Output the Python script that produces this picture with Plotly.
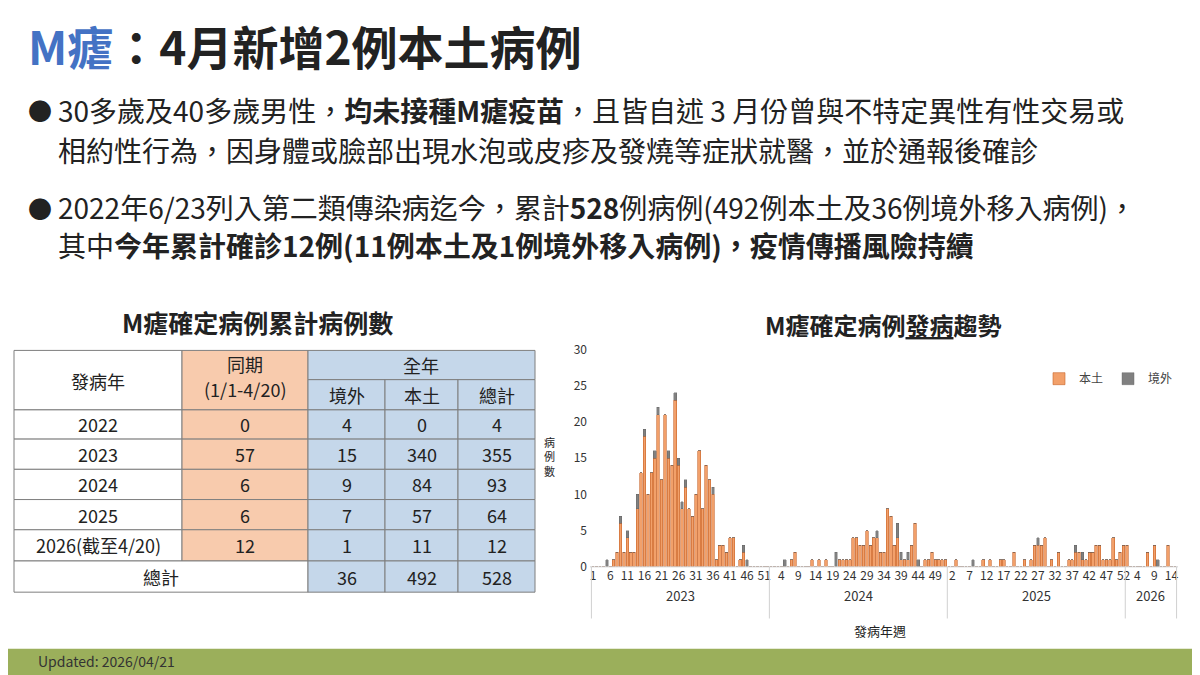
import plotly.graph_objects as go

FONT = "Noto Sans CJK TC"
years = ["2023", "2024", "2025", "2026"]
local = {
 "2023": [0,0,0,0,0,0,1,2,6,2, 4,2,2,8,13,18,10,13,15,21, 12,21,15,14,23,14,8,11,8,7, 10,16,8,14,12,10,1,3,3,2, 4,4,0,1,2,0,0,0,0,0, 0,0],
 "2024": [0,0,0,0,0,0,1,2,0,0, 0,0,1,0,1,0,1,0,0,0, 1,1,1,1,4,4,3,3,5,3, 4,4,2,2,8,7,3,4,1,1, 1,3,6,0,0,1,1,2,1,1, 1,1],
 "2025": [0,0,1,0,0,0,0,0,0,0, 1,0,1,0,0,1,1,0,0,2, 0,0,1,0,1,3,3,3,4,0, 1,0,2,0,0,1,1,2,2,1, 1,2,2,3,3,1,1,1,4,1, 2,3],
 "2026": [3,0,0,0,0,0,2,0,3,0,0,0,3,0,0],
}
imported = {
 "2023": [0,0,0,0,1,0,0,0,1,0, 1,0,0,2,0,1,0,0,1,1, 0,0,1,0,1,1,1,1,0,0, 0,0,0,0,0,1,0,0,0,0, 0,0,0,0,1,1,0,0,0,0, 0,0],
 "2024": [0,0,0,0,1,0,0,0,0,0, 0,0,0,0,0,0,0,0,0,2, 0,0,0,0,0,0,0,0,0,0, 0,1,0,0,0,0,0,2,1,0, 1,0,0,1,0,0,0,0,0,0, 0,0],
 "2025": [0,0,0,0,0,0,0,1,0,0, 0,0,0,0,0,0,0,0,0,0, 0,0,0,0,0,0,1,0,0,0, 0,0,0,0,0,0,0,1,0,1, 0,0,0,0,0,0,0,0,0,0, 0,0],
 "2026": [0,0,0,0,0,0,0,0,0,1,0,0,0,0,0],
}
tick_weeks = {
 "2023": [1,6,11,16,21,26,31,36,41,46,51],
 "2024": [4,9,14,19,24,29,34,39,44,49],
 "2025": [2,7,12,17,22,27,32,37,42,47,52],
 "2026": [4,9,14],
}
table_header = ["發病年", "同期", "(1/1-4/20)", "全年", "境外", "本土", "總計"]
table_years = ["2022", "2023", "2024", "2025", "2026(截至4/20)", "總計"]
table_same = ["0", "57", "6", "6", "12", ""]
table_imp = ["4", "15", "9", "7", "1", "36"]
table_loc = ["0", "340", "84", "57", "11", "492"]
table_tot = ["4", "355", "93", "64", "12", "528"]

xs, yl, yi, tv, tt, bounds, centers = [], [], [], [], [], [-0.5], []
i = 0
for yr in years:
    start = i
    for w, (a, b) in enumerate(zip(local[yr], imported[yr]), 1):
        xs.append(i); yl.append(a); yi.append(b)
        if w in tick_weeks[yr]:
            tv.append(i); tt.append(str(w))
        i += 1
    bounds.append(i - 0.5)
    centers.append((start + i - 1) / 2)

fig = go.Figure()
fig.add_bar(x=xs, y=yl, name="本土", marker=dict(color="#F2A06A", line=dict(color="#C8642A", width=0.6)))
fig.add_bar(x=xs, y=yi, name="境外", marker=dict(color="#808080", line=dict(color="#606060", width=0.4)))

W, H = 1200, 675
OFF = 8
def px(x): return (x - OFF) / W
def py(y): return 1 - (y - OFF) / H

shapes, ann = [], []
def text(x, y, s, size=18, color="#222", bold=False, xa="center", **kw):
    ann.append(dict(x=px(x), y=py(y), xref="paper", yref="paper", text=(f"<b>{s}</b>" if bold else s),
                    showarrow=False, xanchor=xa, yanchor="middle",
                    font=dict(family=FONT, size=size, color=color), **kw))
def rect(x0, y0, x1, y1, fill, lw=1):
    shapes.append(dict(type="rect", xref="paper", yref="paper", x0=px(x0), x1=px(x1), y0=py(y1), y1=py(y0),
                       fillcolor=fill, line=dict(color="#7F7F7F", width=lw), layer="below"))

text(26, 36, "<span style='color:#4472C4'>M瘧</span>：4月新增2例本土病例", size=46, bold=True, xa="left")
text(26, 102, "●", size=24, xa="left")
text(26, 202, "●", size=24, xa="left")
text(56, 102, "30多歲及40多歲男性，<b>均未接種M瘧疫苗</b>，且皆自述 3 月份曾與不特定異性有性交易或", size=28, xa="left")
text(56, 143, "相約性行為，因身體或臉部出現水泡或皮疹及發燒等症狀就醫，並於通報後確診", size=28, xa="left")
text(56, 202, "2022年6/23列入第二類傳染病迄今，累計<b>528</b>例病例(492例本土及36例境外移入病例)，", size=28, xa="left")
text(56, 241, "其中<b>今年累計確診12例(11例本土及1例境外移入病例)，疫情傳播風險持續</b>", size=28, xa="left")

text(257, 320, "M瘧確定病例累計病例數", size=25, bold=True)
cols = [14, 182, 308, 385, 458, 535]
ORG, BLU = "#F8CBAD", "#C5D7EA"
TS = 18
rect(14, 349, 182, 410, "white"); text(98, 380, table_header[0], size=TS)
rect(182, 349, 308, 410, ORG); text(245, 363, table_header[1], size=TS); text(245, 389, table_header[2], size=TS)
rect(308, 349, 535, 379, BLU); text(421, 364, table_header[3], size=TS)
for k in range(3):
    rect(cols[2+k], 379, cols[3+k], 410, BLU); text((cols[2+k]+cols[3+k])/2, 395, table_header[4+k], size=TS)
rows = [410, 440, 471, 502, 533, 565, 597]
for r in range(6):
    y0, y1 = rows[r], rows[r+1]; ym = (y0 + y1) / 2
    if r < 5:
        rect(14, y0, 182, y1, "white"); text(98, ym, table_years[r], size=TS)
        rect(182, y0, 308, y1, ORG); text(245, ym, table_same[r], size=TS)
    else:
        rect(14, y0, 308, y1, "white"); text(161, ym, table_years[r], size=TS)
    for k, arr in enumerate([table_imp, table_loc, table_tot]):
        rect(cols[2+k], y0, cols[3+k], y1, BLU); text((cols[2+k]+cols[3+k])/2, ym, arr[r], size=TS)

text(883, 322, "M瘧確定病例<u>發病</u>趨勢", size=24, bold=True)
text(549, 458, "病<br>例<br>數", size=11)
text(880, 636, "發病年週", size=13)
Y0 = 571
for c, yr in zip(centers, years):
    ann.append(dict(x=c, y=py(612), xref="x", yref="paper", text=yr, showarrow=False,
                    font=dict(family=FONT, size=13, color="#333")))
for b in bounds:
    shapes.append(dict(type="line", xref="x", yref="paper", x0=b, x1=b, y0=py(Y0), y1=py(624),
                       line=dict(color="#D0D0D0", width=1)))
shapes.append(dict(type="line", xref="paper", yref="paper", x0=px(590), x1=px(1178), y0=py(Y0), y1=py(Y0),
                   line=dict(color="#D0D0D0", width=1)))
rect(0, 655, 1210, 685, "#9BAF5B", lw=0)
text(36, 668, "Updated: 2026/04/21", size=14, color="#333", xa="left")

fig.update_layout(
    width=W, height=H, margin=dict(l=0, r=0, t=0, b=0), paper_bgcolor="white", plot_bgcolor="white",
    barmode="stack", bargap=0.25, shapes=shapes, annotations=ann,
    font=dict(family=FONT, size=12, color="#444"),
    legend=dict(orientation="h", traceorder="normal", x=px(1178), xanchor="right", y=py(378), yanchor="middle",
                font=dict(size=12), itemwidth=30, bgcolor="rgba(0,0,0,0)"),
    xaxis=dict(domain=[px(588), px(1180)], range=[-1.5, 171.5], tickvals=tv, ticktext=tt, tickangle=0,
               showgrid=False, zeroline=False, showline=False, ticks="", tickfont=dict(size=12, color="#333")),
    yaxis=dict(domain=[py(Y0), py(348)], range=[0, 30], dtick=5, showgrid=False, zeroline=False,
               tickfont=dict(size=12, color="#333")),
)
fig.write_html("out.html")
